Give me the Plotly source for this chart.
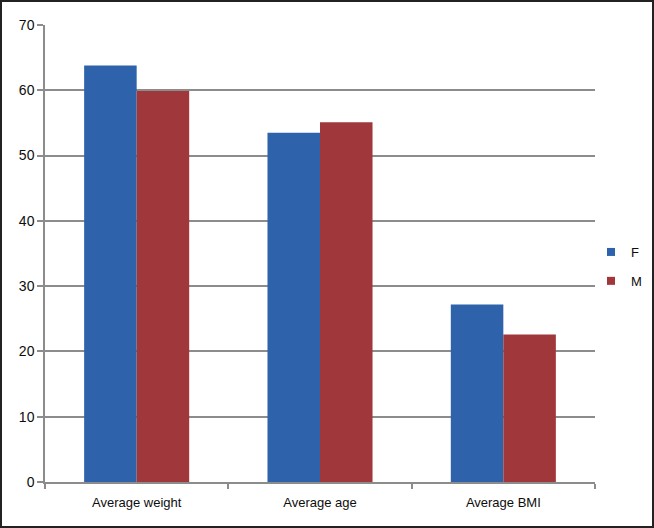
import plotly.graph_objects as go

categories = ["Average weight", "Average age", "Average BMI"]
female = [63.8, 53.5, 27.2]
male = [59.9, 55.1, 22.6]
y_ticks = [0, 10, 20, 30, 40, 50, 60, 70]

FONT = "Liberation Sans, Arial"
BLUE, RED = "#2E62AB", "#A0373A"

fig = go.Figure()
fig.add_trace(go.Bar(name="F", x=categories, y=female, marker=dict(color=BLUE, line=dict(width=0)),
                     showlegend=False, legendgroup="F"))
fig.add_trace(go.Bar(name="M", x=categories, y=male, marker=dict(color=RED, line=dict(width=0)),
                     showlegend=False, legendgroup="M"))
# legend proxies (small square swatches like the reference)
for name, col in (("F", BLUE), ("M", RED)):
    fig.add_trace(go.Scatter(name=name, x=[None], y=[None], mode="markers", legendgroup=name,
                             marker=dict(symbol="square", size=8, color=col), showlegend=True))

W, H = 654, 528
l, r, t, b = 45, 0, 25, 46
pw, ph = W - l - r, H - t - b
plot_right = 595  # right edge of the axes in px

fig.update_layout(
    width=W, height=H,
    margin=dict(l=l, r=r, t=t, b=b, autoexpand=False),
    paper_bgcolor="white", plot_bgcolor="white",
    barmode="group", bargap=0.427, bargroupgap=0,
    font=dict(family=FONT, size=13, color="#0d0d0d"),
    legend=dict(x=(591 - l) / pw, y=(H - b - 237) / ph,
                xanchor="left", yanchor="top", traceorder="grouped",
                font=dict(size=13, color="#0d0d0d"), tracegroupgap=9,
                itemwidth=30, borderwidth=0, bgcolor="rgba(0,0,0,0)"),
    showlegend=True,
    xaxis=dict(domain=[0, (plot_right - l) / pw],
               showline=True, linecolor="#8c8c8c", linewidth=1.5, ticks="outside",
               tickson="boundaries", ticklen=5, tickcolor="#8c8c8c", tickwidth=1.5,
               ticklabelstandoff=8,
               showgrid=False, tickfont=dict(size=13, family=FONT)),
    yaxis=dict(range=[0, 70], tickvals=y_ticks, showline=True, linecolor="#8c8c8c",
               linewidth=1.5, ticks="outside", ticklen=6, tickcolor="#8c8c8c", tickwidth=1.5,
               showgrid=True, gridcolor="#8c8c8c", gridwidth=1.5, zeroline=False,
               tickfont=dict(size=14, family=FONT)),
    shapes=[dict(type="rect", xref="paper", yref="paper",
                 x0=(1 - l) / pw, x1=(W - 1 - l) / pw,
                 y0=(H - b - (H - 1)) / ph, y1=(H - b - 1) / ph,
                 line=dict(color="#222222", width=2), fillcolor="rgba(0,0,0,0)")],
)

fig.write_html("out.html", config={"displayModeBar": False},
               post_script="document.body.style.margin='0';document.body.style.overflow='hidden';")
